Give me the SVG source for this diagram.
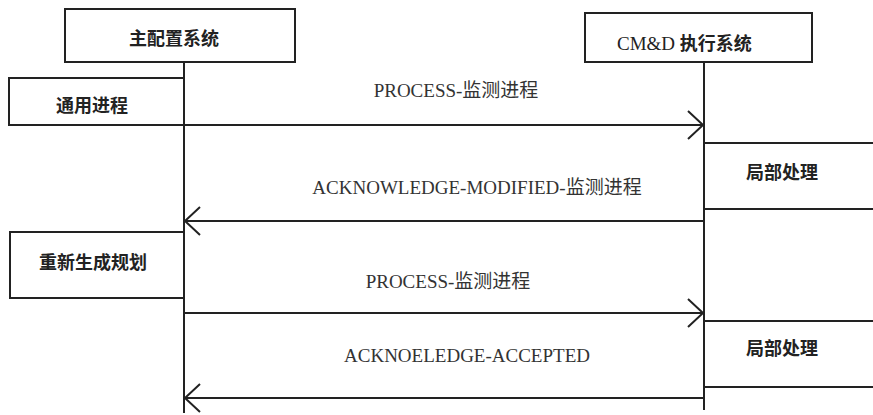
<svg xmlns="http://www.w3.org/2000/svg" width="873" height="415" viewBox="0 0 873 415">
<style>
.box{fill:#fff;stroke:#222;stroke-width:2}
.line{fill:none;stroke:#222;stroke-width:2}
.head{fill:none;stroke:#222;stroke-width:2;stroke-linejoin:miter}
.cjk{font-family:"Noto Sans CJK SC","Noto Sans",sans-serif;font-weight:bold;font-size:18px;fill:#222;text-anchor:middle}
.msg{font-family:"Liberation Serif","Noto Sans CJK SC",serif;font-size:19px;fill:#333;text-anchor:middle}
</style>
<rect width="873" height="415" fill="#fff"/>
<g id="connectors">
<line class="line" x1="184" y1="62" x2="184" y2="413"/>
<line class="line" x1="704" y1="62" x2="704" y2="410"/>
<line class="line" x1="184" y1="125" x2="703" y2="125"/>
<polyline class="head" points="688,111 703,125 688,139"/>
<line class="line" x1="185" y1="221" x2="704" y2="221"/>
<polyline class="head" points="200,207 185,221 200,235"/>
<line class="line" x1="184" y1="313" x2="703" y2="313"/>
<polyline class="head" points="688,299 703,313 688,327"/>
<line class="line" x1="185" y1="398" x2="704" y2="398"/>
<polyline class="head" points="200,384 185,398 200,412"/>
</g>
<g id="main-system">
<rect class="box" x="65" y="9" width="230" height="53"/>
<text class="cjk" x="174" y="45">主配置系统</text>
</g>
<g id="cmd-system">
<rect class="box" x="585" y="13" width="227" height="49"/>
<text x="617" y="50" style="font-size:19px;fill:#222"><tspan font-family="Liberation Serif, serif">CM&amp;D </tspan><tspan font-family="Noto Sans CJK SC, sans-serif" font-weight="bold" font-size="18">执行系统</tspan></text>
</g>
<g id="general-process">
<rect class="box" x="9" y="78" width="175" height="47"/>
<text class="cjk" x="92" y="112">通用进程</text>
</g>
<g id="local-1">
<rect class="box" x="704" y="143" width="175" height="66"/>
<text class="cjk" x="782" y="179">局部处理</text>
</g>
<g id="replan">
<rect class="box" x="10" y="232" width="174" height="66"/>
<text class="cjk" x="93" y="269">重新生成规划</text>
</g>
<g id="local-2">
<rect class="box" x="704" y="321" width="175" height="66"/>
<text class="cjk" x="782" y="355">局部处理</text>
</g>
<g id="labels">
<text class="msg" x="456" y="97">PROCESS-监测进程</text>
<text class="msg" x="477" y="194">ACKNOWLEDGE-MODIFIED-监测进程</text>
<text class="msg" x="448" y="288">PROCESS-监测进程</text>
<text class="msg" x="467" y="362">ACKNOELEDGE-ACCEPTED</text>
</g>
</svg>
